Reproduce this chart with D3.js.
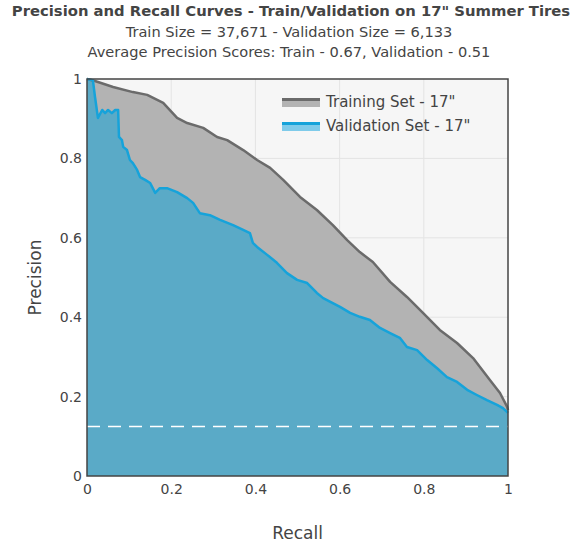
<!DOCTYPE html>
<html>
<head>
<meta charset="utf-8">
<script src="https://cdn.jsdelivr.net/npm/d3@7"></script>
<style>
    body { margin: 0; background: #fff; }
    text { font-family: "DejaVu Sans", Verdana, sans-serif; fill: #444; }
</style>
</head>
<body>
<div id="chart"></div>
<script>
// Precision / recall points
const trainRecall = [0, 0.019, 0.062, 0.109, 0.143, 0.181, 0.214, 0.238, 0.276, 0.309, 0.333, 0.371, 0.404, 0.435, 0.466, 0.506, 0.546, 0.584, 0.618, 0.648, 0.679, 0.720, 0.760, 0.798, 0.838, 0.879, 0.917, 0.957, 0.981, 0.998, 1.0];
const trainPrecision = [1, 0.995, 0.980, 0.967, 0.960, 0.940, 0.902, 0.889, 0.877, 0.854, 0.846, 0.821, 0.796, 0.776, 0.746, 0.703, 0.670, 0.632, 0.594, 0.564, 0.539, 0.489, 0.451, 0.411, 0.368, 0.335, 0.297, 0.242, 0.209, 0.174, 0.166];

const valRecall = [0, 0.014, 0.019, 0.026, 0.036, 0.043, 0.050, 0.059, 0.067, 0.074, 0.076, 0.083, 0.086, 0.095, 0.102, 0.109, 0.119, 0.126, 0.138, 0.150, 0.162, 0.173, 0.190, 0.214, 0.238, 0.252, 0.268, 0.292, 0.316, 0.347, 0.371, 0.387, 0.394, 0.404, 0.428, 0.451, 0.475, 0.499, 0.523, 0.546, 0.561, 0.601, 0.625, 0.648, 0.672, 0.696, 0.720, 0.743, 0.760, 0.784, 0.808, 0.831, 0.855, 0.879, 0.903, 0.926, 0.950, 0.974, 0.988, 1.0];
const valPrecision = [1, 0.997, 0.955, 0.902, 0.922, 0.914, 0.922, 0.914, 0.922, 0.922, 0.854, 0.846, 0.829, 0.821, 0.796, 0.788, 0.771, 0.753, 0.746, 0.738, 0.713, 0.725, 0.725, 0.715, 0.700, 0.688, 0.662, 0.657, 0.645, 0.632, 0.620, 0.612, 0.587, 0.577, 0.557, 0.537, 0.511, 0.494, 0.486, 0.461, 0.448, 0.426, 0.411, 0.401, 0.393, 0.373, 0.360, 0.348, 0.325, 0.317, 0.292, 0.272, 0.249, 0.237, 0.217, 0.204, 0.191, 0.179, 0.171, 0.159];

const baseline = 0.125;
const tickValues = [0, 0.2, 0.4, 0.6, 0.8, 1];
const seriesNames = ['Training Set - 17"', 'Validation Set - 17"'];
const titleLines = [
    'Precision and Recall Curves - Train/Validation on 17" Summer Tires',
    'Train Size = 37,671 - Validation Size = 6,133',
    'Average Precision Scores: Train - 0.67, Validation - 0.51'
];

const width = 579, height = 545;
const margin = { left: 87, right: 71, top: 79, bottom: 69 };

const svg = d3.select('#chart').append('svg')
    .attr('width', width)
    .attr('height', height);

const x = d3.scaleLinear().domain([0, 1]).range([margin.left, width - margin.right]);
const y = d3.scaleLinear().domain([0, 1]).range([height - margin.bottom, margin.top]);

// plot background + grid
svg.append('rect')
    .attr('x', x(0)).attr('y', y(1))
    .attr('width', x(1) - x(0)).attr('height', y(0) - y(1))
    .attr('fill', '#f6f6f6');

const grid = svg.append('g');
grid.selectAll('line.gx').data(tickValues.slice(1, -1)).join('line')
    .attr('x1', d => x(d)).attr('x2', d => x(d))
    .attr('y1', y(0)).attr('y2', y(1))
    .attr('stroke', '#e4e4e4').attr('stroke-width', 1);
grid.selectAll('line.gy').data(tickValues.slice(1, -1)).join('line')
    .attr('y1', d => y(d)).attr('y2', d => y(d))
    .attr('x1', x(0)).attr('x2', x(1))
    .attr('stroke', '#e4e4e4').attr('stroke-width', 1);

const train = trainRecall.map((r, i) => [r, trainPrecision[i]]);
const val = valRecall.map((r, i) => [r, valPrecision[i]]);

const area = d3.area().x(d => x(d[0])).y0(y(0)).y1(d => y(d[1]));
const line = d3.line().x(d => x(d[0])).y(d => y(d[1]));

svg.append('path').datum(train).attr('d', area).attr('fill', '#b3b3b3');
svg.append('path').datum(val).attr('d', area).attr('fill', '#5aaac7');
svg.append('path').datum(train).attr('d', line)
    .attr('fill', 'none').attr('stroke', '#6b6b6b').attr('stroke-width', 2.5).attr('stroke-linejoin', 'round');
svg.append('path').datum(val).attr('d', line)
    .attr('fill', 'none').attr('stroke', '#16a3da').attr('stroke-width', 2.5).attr('stroke-linejoin', 'round');

// baseline (dashed)
svg.append('line')
    .attr('x1', x(0)).attr('x2', x(1))
    .attr('y1', y(baseline)).attr('y2', y(baseline))
    .attr('stroke', '#fff').attr('stroke-width', 1.5)
    .attr('stroke-dasharray', '13,8');

// frame
svg.append('rect')
    .attr('x', x(0)).attr('y', y(1))
    .attr('width', x(1) - x(0)).attr('height', y(0) - y(1))
    .attr('fill', 'none').attr('stroke', '#444').attr('stroke-width', 1.5);

// axes
const fmt = d => String(d);
const xAxis = svg.append('g')
    .attr('transform', `translate(0,${y(0)})`)
    .call(d3.axisBottom(x).tickValues(tickValues).tickFormat(fmt).tickSize(0).tickPadding(8));
const yAxis = svg.append('g')
    .attr('transform', `translate(${x(0)},0)`)
    .call(d3.axisLeft(y).tickValues(tickValues).tickFormat(fmt).tickSize(0).tickPadding(5));
[xAxis, yAxis].forEach(a => {
    a.select('.domain').remove();
    a.selectAll('text').attr('font-size', 14).attr('fill', '#444')
        .attr('font-family', '"DejaVu Sans", Verdana, sans-serif');
});

svg.append('text')
    .attr('x', x(0.5)).attr('y', 539)
    .attr('text-anchor', 'middle').attr('font-size', 17)
    .text('Recall');
svg.append('text')
    .attr('transform', `translate(41,${y(0.5)}) rotate(-90)`)
    .attr('text-anchor', 'middle').attr('font-size', 17)
    .text('Precision');

// titles
svg.append('text')
    .attr('x', 291).attr('y', 16)
    .attr('text-anchor', 'middle').attr('font-size', 14.8).attr('font-weight', 'bold')
    .text(titleLines[0]);
svg.selectAll('text.sub').data(titleLines.slice(1)).join('text')
    .attr('class', 'sub')
    .attr('x', 289).attr('y', (d, i) => 37 + i * 20)
    .attr('text-anchor', 'middle').attr('font-size', 14.6)
    .text(d => d);

// legend
const legendColors = [['#b3b3b3', '#6b6b6b'], ['#7fcbea', '#16a3da']];
const legend = svg.append('g').attr('transform', 'translate(282,98)');
seriesNames.forEach((name, i) => {
    const g = legend.append('g').attr('transform', `translate(0,${i * 24})`);
    g.append('rect').attr('x', 0).attr('y', 0).attr('width', 38).attr('height', 9).attr('fill', legendColors[i][0]);
    g.append('line').attr('x1', 0).attr('x2', 38).attr('y1', 1.5).attr('y2', 1.5)
        .attr('stroke', legendColors[i][1]).attr('stroke-width', 3);
    g.append('text').attr('x', 44).attr('y', 9).attr('font-size', 15).text(name);
});
</script>
</body>
</html>
